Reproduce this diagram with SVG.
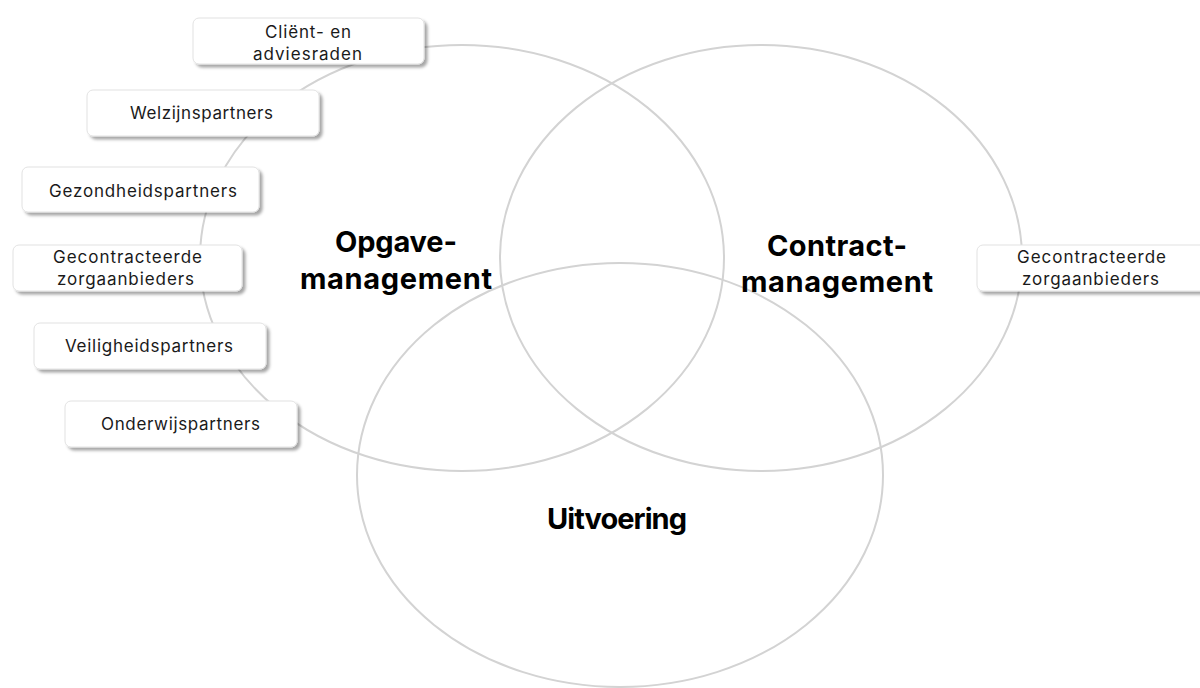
<svg xmlns="http://www.w3.org/2000/svg" width="1200" height="688" viewBox="0 0 1200 688">
  <style>
    .ring { fill: none; stroke: #d3d3d3; stroke-width: 2; }
    .box { fill: #ffffff; stroke: #e2e2e2; stroke-width: 1; filter: url(#shadow); }
    .lbl { font-family: Inter, "Noto Sans", sans-serif; font-size: 17px; fill: #1a1a1a; text-anchor: middle; }
    .big { font-family: Inter, "Noto Sans", sans-serif; font-size: 29px; font-weight: 700; fill: #000000; text-anchor: middle; }
  </style>
  <defs>
    <filter id="shadow" x="-10%" y="-30%" width="125%" height="170%">
      <feDropShadow dx="3" dy="3" stdDeviation="1.5" flood-color="#000000" flood-opacity="0.35"/>
    </filter>
  </defs>
  <rect width="1200" height="688" fill="#ffffff"/>

  <!-- overlapping domains -->
  <g id="connectors">
    <ellipse class="ring" cx="462" cy="258" rx="262" ry="213"/>
    <ellipse class="ring" cx="761" cy="258" rx="261" ry="213"/>
    <ellipse class="ring" cx="620" cy="475" rx="263" ry="212"/>
  </g>

  <g id="opgavemanagement">
    <text class="big" x="396" y="252" textLength="122" lengthAdjust="spacing">Opgave-</text>
    <text class="big" x="396" y="289" textLength="192" lengthAdjust="spacing">management</text>
  </g>
  <g id="contractmanagement">
    <text class="big" x="837" y="256" textLength="140" lengthAdjust="spacing">Contract-</text>
    <text class="big" x="837" y="292" textLength="192" lengthAdjust="spacing">management</text>
  </g>
  <g id="uitvoering">
    <text class="big" x="617" y="529" textLength="140" lengthAdjust="spacing">Uitvoering</text>
  </g>

  <!-- partner boxes -->
  <g id="client-adviesraden">
    <rect class="box" x="193" y="18" width="231" height="46" rx="6"/>
    <text class="lbl" x="308" y="38" textLength="86" lengthAdjust="spacing">Cliënt- en</text>
    <text class="lbl" x="307.5" y="60" textLength="109" lengthAdjust="spacing">adviesraden</text>
  </g>
  <g id="welzijnspartners">
    <rect class="box" x="87" y="90" width="232" height="46" rx="6"/>
    <text class="lbl" x="201.5" y="119" textLength="143" lengthAdjust="spacing">Welzijnspartners</text>
  </g>
  <g id="gezondheidspartners">
    <rect class="box" x="22" y="167" width="237" height="45" rx="6"/>
    <text class="lbl" x="143" y="197" textLength="188" lengthAdjust="spacing">Gezondheidspartners</text>
  </g>
  <g id="zorgaanbieders-links">
    <rect class="box" x="13" y="245" width="229" height="46" rx="6"/>
    <text class="lbl" x="127.5" y="263" textLength="149" lengthAdjust="spacing">Gecontracteerde</text>
    <text class="lbl" x="125.5" y="285" textLength="137" lengthAdjust="spacing">zorgaanbieders</text>
  </g>
  <g id="veiligheidspartners">
    <rect class="box" x="34" y="323" width="232" height="46" rx="6"/>
    <text class="lbl" x="149" y="352" textLength="168" lengthAdjust="spacing">Veiligheidspartners</text>
  </g>
  <g id="onderwijspartners">
    <rect class="box" x="65" y="401" width="232" height="46" rx="6"/>
    <text class="lbl" x="180.5" y="430" textLength="159" lengthAdjust="spacing">Onderwijspartners</text>
  </g>
  <g id="zorgaanbieders-rechts">
    <rect class="box" x="977" y="245" width="232" height="46" rx="6"/>
    <text class="lbl" x="1091.5" y="263" textLength="149" lengthAdjust="spacing">Gecontracteerde</text>
    <text class="lbl" x="1090.5" y="285" textLength="137" lengthAdjust="spacing">zorgaanbieders</text>
  </g>
</svg>
